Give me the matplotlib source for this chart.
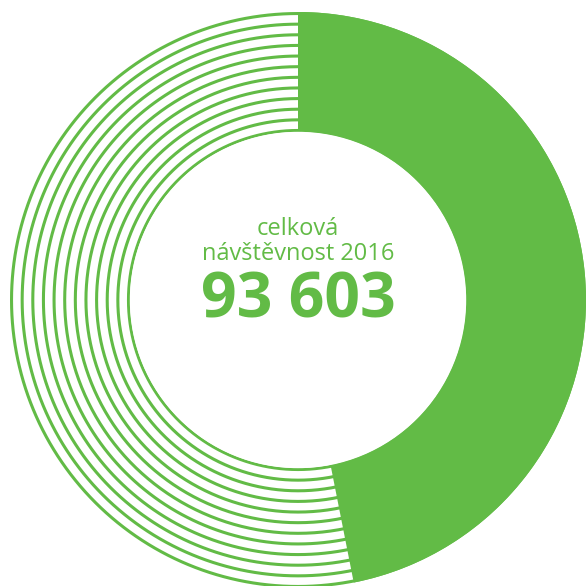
import numpy as np
import matplotlib.pyplot as plt

# visitor total and the share shown as the solid part of the ring
total_visitors = 93603
filled_share = [0.469, 0.531]
label_lines = ["celková", "návštěvnost 2016"]
n_rings = 12

green = "#62bb46"

fig = plt.figure(figsize=(5.86, 5.86), dpi=100)
ax = fig.add_axes([0, 0, 1, 1])

r_out = 288
r_in = 168

# thin concentric rings for the empty part
theta = np.linspace(0, 2 * np.pi, 721)
lw = 2.2
half = lw * 100 / 72 / 2
for r in np.linspace(r_in + half, r_out - half, n_rings):
    ax.plot(r * np.cos(theta), r * np.sin(theta), color=green, lw=lw,
            solid_capstyle="butt")

# solid segment, clockwise from 12 o'clock
ax.pie(filled_share, colors=[green, "none"], startangle=90, counterclock=False,
       radius=r_out, wedgeprops=dict(width=r_out - r_in, linewidth=0),
       center=(0, 0), frame=True)
ax.set_xlim(-298, 288)
ax.set_ylim(-286, 300)
ax.set_aspect("equal")
ax.axis("off")

# white disc so nothing shows inside the ring
ax.add_patch(plt.Circle((0, 0), r_in - 0.5, color="white", zorder=3))

ax.text(0, 65, label_lines[0], ha="center", va="baseline", color=green,
        fontsize=17, family="Open Sans", zorder=4)
ax.text(0, 40, label_lines[1], ha="center", va="baseline", color=green,
        fontsize=17, family="Open Sans", zorder=4)
num = f"{total_visitors:,}".replace(",", " ")
ax.text(0, -18, num, ha="center", va="baseline", color=green,
        fontsize=45, fontweight="bold", family="Open Sans", zorder=4)

fig.savefig("out.png", dpi=100, facecolor="white")
